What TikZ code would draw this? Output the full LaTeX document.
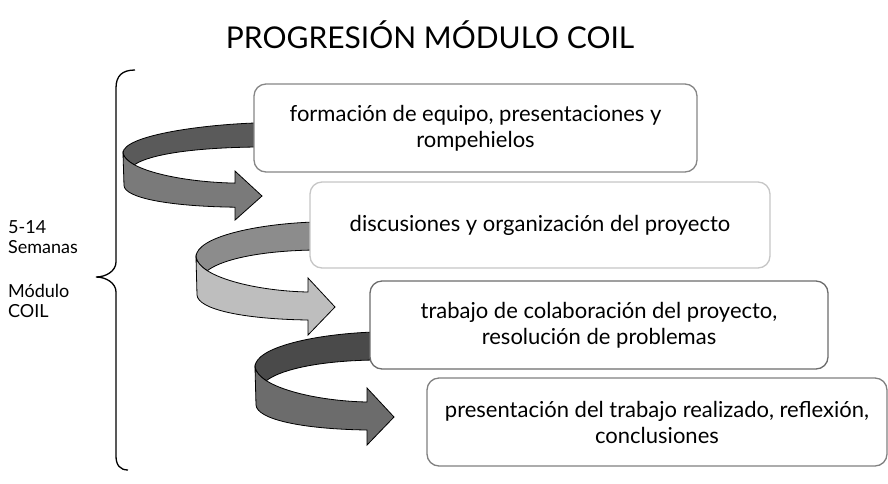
\documentclass[tikz,border=0pt]{standalone}
\usepackage{fontspec}
\setmainfont{Lato}

\definecolor{atrasA}{HTML}{5A5A5A}
\definecolor{frenteA}{HTML}{7A7A7A}
\definecolor{atrasB}{HTML}{8C8C8C}
\definecolor{frenteB}{HTML}{BEBEBE}
\definecolor{atrasC}{HTML}{4A4A4A}
\definecolor{frenteC}{HTML}{6C6C6C}

\begin{document}
\begin{tikzpicture}[x=1pt,y=-1pt,
	caja/.style={draw=#1,line width=1.3pt,rounded corners=12pt,fill=white,align=center,
		font=\fontsize{22}{26}\selectfont,inner sep=0pt},
	cinta/.style={line width=0.8pt,line join=miter}]
	\useasboundingbox (0,0) rectangle (888,483);
	\node[font=\fontsize{30}{32}\selectfont] (titulo) at (430,35) {PROGRESIÓN MÓDULO COIL};
	% llave y semanas
	\draw[line width=1.3pt] (135,70) .. controls (122,70) and (116,76) .. (116,88) -- (116,262)
		.. controls (116,271) and (106,277) .. (96,277) .. controls (106,277) and (116,283) .. (116,292)
		-- (116,456) .. controls (116,465) and (120,470) .. (128,470);
	\node[anchor=west,align=left,inner sep=0pt,font=\fontsize{18}{20}\selectfont] (semanas) at (8,237) {5-14\\Semanas};
	\node[anchor=west,align=left,inner sep=0pt,font=\fontsize{18}{20}\selectfont] (modulo) at (8,301) {Módulo\\COIL};
	% parte de atras de las cintas
	\foreach \px/\py/\e/\ys/\col in {123/153/131/0.86/atrasA, 196/257/114/1/atrasB, 255/367/115/1/atrasC}
	\draw[cinta,fill=\col,shift={(\px,\py)},yscale=\ys] (\e+4,-35) .. controls (\e-54,-33) and (0,-20) .. (0,0)
		.. controls (0.8,5) and (4.9,9.6) .. (11.4,13.7) .. controls (22,5) and (55,-6) .. (\e+4,-7) -- cycle;
	% cuadros
	\node[caja=gray!95,minimum width=443,minimum height=88] (formacion) at (475.5,128)
		{formación de equipo, presentaciones y\\rompehielos};
	\node[caja=gray!45,minimum width=460,minimum height=86] (discusion) at (540,225)
		{discusiones y organización del proyecto};
	\node[caja=gray!115,minimum width=458,minimum height=88] (trabajo) at (599,325)
		{trabajo de colaboración del proyecto,\\resolución de problemas};
	\node[caja=gray,minimum width=460,minimum height=88] (presentacion) at (657,422)
		{presentación del trabajo realizado, reflexión,\\conclusiones};
	% parte de adelante con flecha
	\foreach \px/\py/\ys/\col in {123/153/0.86/frenteA, 196/257/1/frenteB, 255/367/1/frenteC}
	\draw[cinta,fill=\col,shift={(\px,\py)},yscale=\ys] (0,0) .. controls (3,20) and (60,34) .. (112,35)
		-- (112,21) -- (139,50) -- (112,78) -- (112,63) .. controls (45,62) and (2,52) .. (1,38) -- cycle;
\end{tikzpicture}
\end{document}
